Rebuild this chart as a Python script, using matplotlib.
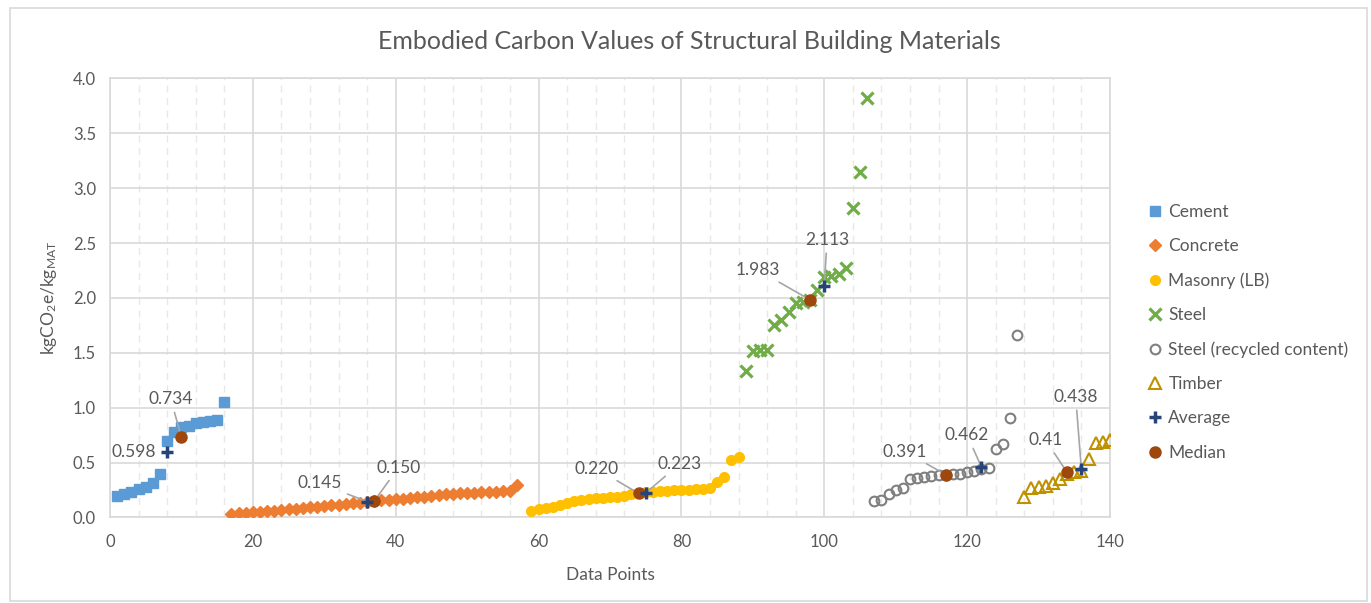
import numpy as np
import matplotlib
matplotlib.use('Agg')
import matplotlib.pyplot as plt
from matplotlib.patches import Rectangle

plt.rcParams['font.family'] = ['Lato', 'DejaVu Sans']
plt.rcParams['mathtext.default'] = 'regular'

# data (x = data point index, y = kgCO2e/kgMAT)
cement_x = list(range(1, 17))
cement_y = [0.20, 0.21, 0.23, 0.26, 0.28, 0.31, 0.40, 0.70,
            0.78, 0.82, 0.83, 0.86, 0.87, 0.88, 0.89, 1.05]

concrete_x = list(range(17, 58))
concrete_y = [0.03, 0.04, 0.045, 0.05, 0.05, 0.055, 0.06, 0.07, 0.075, 0.08,
              0.09, 0.095, 0.10, 0.105, 0.11, 0.115, 0.12, 0.13, 0.135, 0.14,
              0.15, 0.155, 0.16, 0.165, 0.17, 0.18, 0.185, 0.19, 0.20, 0.205,
              0.21, 0.215, 0.22, 0.22, 0.225, 0.23, 0.23, 0.235, 0.24, 0.245,
              0.30]

masonry_x = list(range(59, 89))
masonry_y = [0.06, 0.08, 0.09, 0.10, 0.11, 0.13, 0.15, 0.16, 0.17, 0.18,
             0.18, 0.19, 0.19, 0.20, 0.21, 0.22, 0.23, 0.23, 0.24, 0.24,
             0.25, 0.25, 0.25, 0.26, 0.26, 0.27, 0.32, 0.37, 0.52, 0.55]

steel_x = list(range(89, 107))
steel_y = [1.33, 1.52, 1.53, 1.53, 1.75, 1.80, 1.87, 1.95, 1.96, 1.98,
           2.07, 2.19, 2.20, 2.22, 2.27, 2.82, 3.15, 3.82]

recycled_x = list(range(107, 128))
recycled_y = [0.15, 0.16, 0.21, 0.25, 0.27, 0.35, 0.36, 0.37, 0.38, 0.385,
              0.39, 0.40, 0.40, 0.41, 0.42, 0.44, 0.455, 0.62, 0.67, 0.91,
              1.66]

timber_x = list(range(128, 141))
timber_y = [0.19, 0.27, 0.28, 0.29, 0.31, 0.35, 0.40, 0.41, 0.42, 0.53,
            0.68, 0.69, 0.71]

avg_x = [8, 36, 75, 100, 122, 136]
avg_y = [0.598, 0.145, 0.223, 2.113, 0.462, 0.438]
avg_labels = ['0.598', '0.145', '0.223', '2.113', '0.462', '0.438']

med_x = [10, 37, 74, 98, 117, 134]
med_y = [0.734, 0.150, 0.220, 1.983, 0.391, 0.41]
med_labels = ['0.734', '0.150', '0.220', '1.983', '0.391', '0.41']

# label positions (data coords)
avg_text_pos = [(3.4, 0.60), (29.4, 0.31), (79.8, 0.49), (100.4, 2.53), (120.0, 0.75), (135.2, 1.10)]
med_text_pos = [(8.5, 1.08), (40.4, 0.455), (68.1, 0.446), (90.7, 2.254), (111.3, 0.60), (131.0, 0.706)]

txt = '#595959'
fig = plt.figure(figsize=(13.71, 6.03), dpi=100)
ax = fig.add_axes([0.0802, 0.1418, 0.7294, 0.7283])

ax.plot(cement_x, cement_y, 's', ms=7.5, color='#5B9BD5', label='Cement', zorder=3)
ax.plot(concrete_x, concrete_y, 'D', ms=6, color='#ED7D31', label='Concrete', zorder=3)
ax.plot(masonry_x, masonry_y, 'o', ms=7, color='#FFC000', label='Masonry (LB)', zorder=3)
ax.plot(steel_x, steel_y, 'x', ms=8, mew=2.3, color='#70AD47', label='Steel', zorder=3)
ax.plot(recycled_x, recycled_y, 'o', ms=7, mfc='none', mew=1.5, color='#7F7F7F',
        label='Steel (recycled content)', zorder=3)
ax.plot(timber_x, timber_y, '^', ms=8, mfc='none', mew=1.5, color='#BF9000',
        label='Timber', zorder=3)
ax.plot(avg_x, avg_y, '+', ms=9, mew=2.5, color='#264478', label='Average', zorder=5)
ax.plot(med_x, med_y, 'o', ms=8, color='#9E480E', label='Median', zorder=4)

line_props = dict(arrowstyle='-', color='#A6A6A6', lw=1.2, shrinkA=2, shrinkB=2)
for i in range(len(avg_x)):
    if i == 0:
        ax.annotate(avg_labels[i], xy=(avg_x[i], avg_y[i]), xytext=avg_text_pos[i],
                    ha='center', va='center', fontsize=12.5, color=txt)
    else:
        ax.annotate(avg_labels[i], xy=(avg_x[i], avg_y[i]), xytext=avg_text_pos[i],
                    ha='center', va='center', fontsize=12.5, color=txt,
                    arrowprops=line_props)
for i in range(len(med_x)):
    ax.annotate(med_labels[i], xy=(med_x[i], med_y[i]), xytext=med_text_pos[i],
                ha='center', va='center', fontsize=12.5, color=txt,
                arrowprops=line_props)

ax.set_xlim(0, 140)
ax.set_ylim(0, 4.0)
ax.set_xticks(np.arange(0, 141, 20))
ax.set_xticks(np.arange(0, 141, 4), minor=True)
ax.set_yticks(np.arange(0, 4.01, 0.5))
ax.set_yticklabels(['%.1f' % v for v in np.arange(0, 4.01, 0.5)])
ax.grid(which='major', color='#D9D9D9', lw=1.2, zorder=0)
ax.grid(which='minor', axis='x', color='#E8E8E8', lw=1, linestyle=(0, (5, 4)), zorder=0)
ax.set_axisbelow(True)
ax.tick_params(which='both', length=0, labelsize=12, colors=txt)
ax.tick_params(axis='x', pad=12)
ax.tick_params(axis='y', pad=10)
for s in ax.spines.values():
    s.set_color('#D9D9D9')
    s.set_linewidth(1.2)

fig.text(0.503, 0.932, 'Embodied Carbon Values of Structural Building Materials',
         fontsize=18, color=txt, ha='center', va='center')
ax.set_xlabel('Data Points', fontsize=12.5, color=txt, labelpad=12)
ax.set_ylabel(r'kgCO$_2$e/kg$_{MAT}$', fontsize=12.5, color=txt, labelpad=10)

leg = ax.legend(loc='center left', bbox_to_anchor=(0.832, 0.449),
                bbox_transform=fig.transFigure, frameon=False, fontsize=12.5,
                labelspacing=1.05, handlelength=0.9, handletextpad=0.3, numpoints=1,
                borderaxespad=0)
for t in leg.get_texts():
    t.set_color(txt)

fig.patches.append(Rectangle((0.007, 0.004), 0.99, 0.983, transform=fig.transFigure,
                             fill=False, edgecolor='#D9D9D9', lw=1.2))

fig.savefig('out.png', dpi=100)
